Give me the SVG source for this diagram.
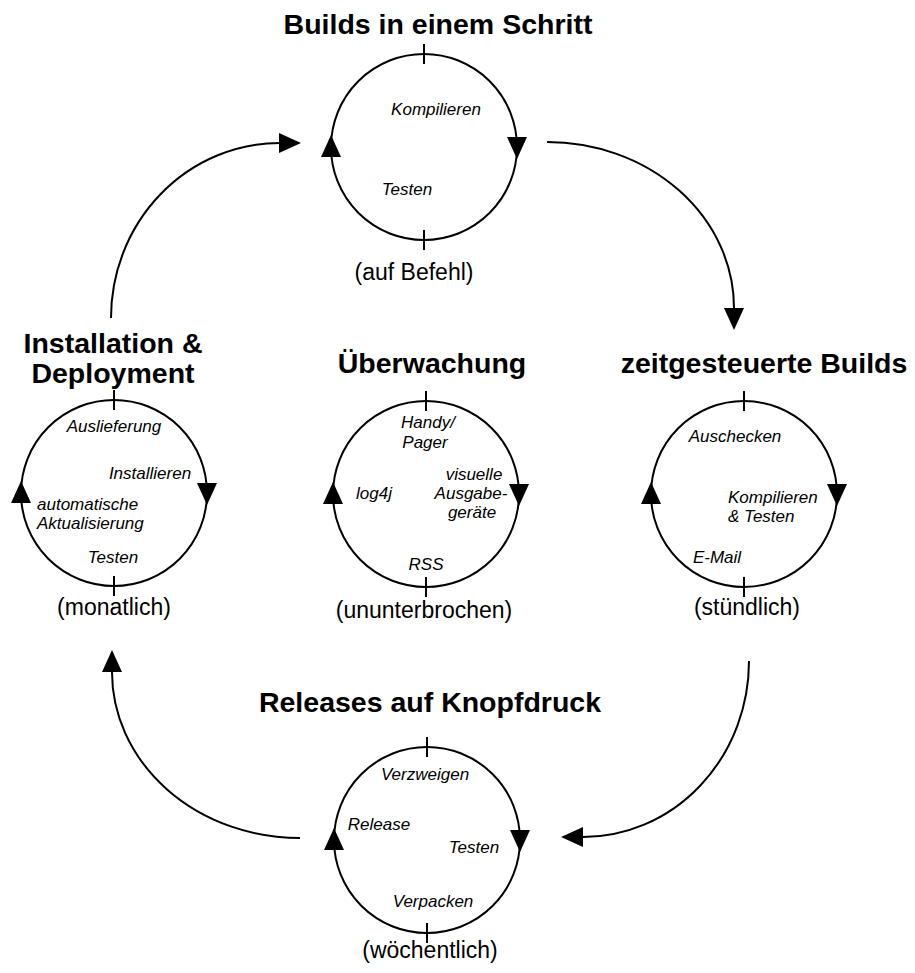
<svg xmlns="http://www.w3.org/2000/svg" xmlns:xlink="http://www.w3.org/1999/xlink" width="915" height="973" viewBox="0 0 915 973">
<style>
.ln{fill:none;stroke:#000;stroke-width:2}
.ah{fill:#000;stroke:none}
.tt{font-family:"Liberation Sans",Arial,sans-serif;font-weight:bold;font-size:28.5px;fill:#000;text-anchor:middle}
.it{font-family:"Liberation Sans",Arial,sans-serif;font-style:italic;font-size:17px;fill:#000;text-anchor:middle}
.itl{font-family:"Liberation Sans",Arial,sans-serif;font-style:italic;font-size:17px;fill:#000}
.fq{font-family:"Liberation Sans",Arial,sans-serif;font-size:23px;fill:#000;text-anchor:middle}
</style>
<defs>
<g id="cycle">
<circle class="ln" cx="0" cy="0" r="93"/>
<line class="ln" x1="0" y1="-103" x2="0" y2="-83"/>
<line class="ln" x1="0" y1="83" x2="0" y2="103"/>
<polygon class="ah" points="-103,10 -83,10 -93,-12"/>
<polygon class="ah" points="83,-10 103,-10 93,12"/>
</g>
</defs>
<rect width="915" height="973" fill="#fff"/>
<g id="connectors">
<path class="ln" d="M111,318 A169,175 0 0 1 280,143"/>
<polygon class="ah" points="279,133 279,153 301,143"/>
<path class="ln" d="M547,142 A187,166 0 0 1 734,308"/>
<polygon class="ah" points="724,308 744,308 734,330"/>
<path class="ln" d="M749,661 A166,176 0 0 1 583,837"/>
<polygon class="ah" points="583,827 583,847 561,837"/>
<path class="ln" d="M300,838 A188,166 0 0 1 112,672"/>
<polygon class="ah" points="102,672 122,672 112,650"/>
</g>
<g id="node-builds">
<use xlink:href="#cycle" href="#cycle" x="424" y="147"/>
<text class="tt" x="438" y="34">Builds in einem Schritt</text>
<text class="it" x="436" y="115">Kompilieren</text>
<text class="it" x="407" y="195">Testen</text>
<text class="fq" x="414" y="280">(auf Befehl)</text>
</g>
<g id="node-installation">
<use xlink:href="#cycle" href="#cycle" x="114" y="493"/>
<text class="tt" x="113" y="353">Installation &amp;</text>
<text class="tt" x="113" y="383">Deployment</text>
<text class="it" x="114" y="432">Auslieferung</text>
<text class="it" x="150" y="479">Installieren</text>
<text class="itl" x="37" y="510">automatische</text>
<text class="itl" x="37" y="529">Aktualisierung</text>
<text class="it" x="113" y="563">Testen</text>
<text class="fq" x="114" y="615">(monatlich)</text>
</g>
<g id="node-ueberwachung">
<use xlink:href="#cycle" href="#cycle" x="426" y="494"/>
<text class="tt" x="432" y="373">Überwachung</text>
<text class="it" x="428" y="428">Handy/</text>
<text class="it" x="425" y="448">Pager</text>
<text class="it" x="374" y="499">log4j</text>
<text class="it" x="474" y="480">visuelle</text>
<text class="it" x="471" y="499">Ausgabe-</text>
<text class="it" x="472" y="518">geräte</text>
<text class="it" x="426" y="570">RSS</text>
<text class="fq" x="424" y="618">(ununterbrochen)</text>
</g>
<g id="node-zeitgesteuert">
<use xlink:href="#cycle" href="#cycle" x="744" y="494"/>
<text class="tt" x="764" y="373">zeitgesteuerte Builds</text>
<text class="it" x="735" y="442">Auschecken</text>
<text class="itl" x="728" y="503">Kompilieren</text>
<text class="itl" x="728" y="522">&amp; Testen</text>
<text class="it" x="717" y="563">E-Mail</text>
<text class="fq" x="747" y="615">(stündlich)</text>
</g>
<g id="node-releases">
<use xlink:href="#cycle" href="#cycle" x="427" y="840"/>
<text class="tt" x="430" y="712">Releases auf Knopfdruck</text>
<text class="it" x="425" y="780">Verzweigen</text>
<text class="it" x="379" y="830">Release</text>
<text class="it" x="474" y="853">Testen</text>
<text class="it" x="433" y="907">Verpacken</text>
<text class="fq" x="430" y="958">(wöchentlich)</text>
</g>
</svg>
